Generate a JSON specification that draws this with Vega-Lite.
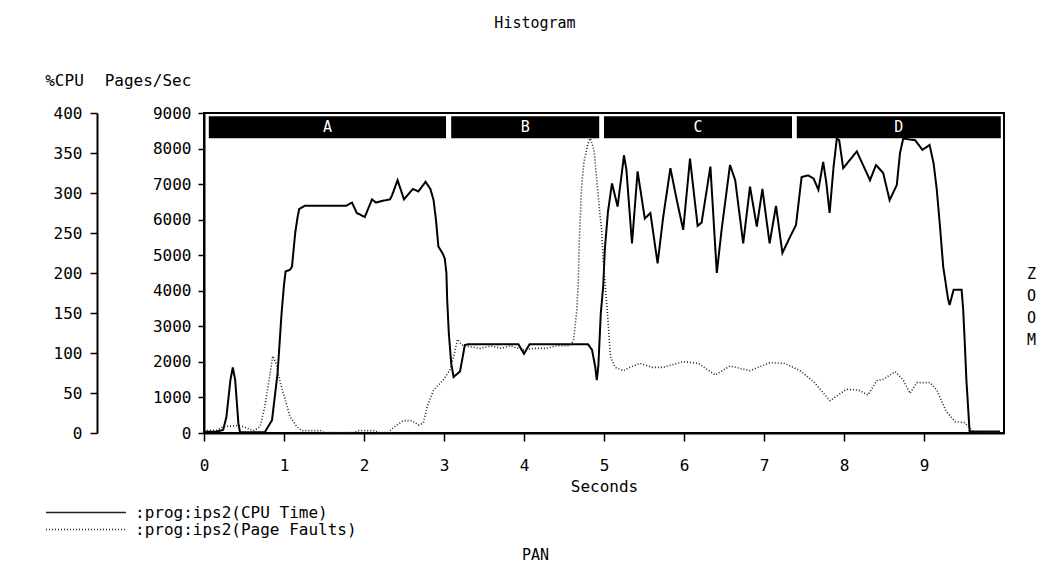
{
  "$schema": "https://vega.github.io/schema/vega-lite/v6.json",
  "width": 800,
  "height": 320,
  "autosize": "none",
  "padding": {"left": 204, "top": 113, "right": 53, "bottom": 154},
  "background": "white",
  "title": {"text": "Histogram", "font": "DejaVu Sans Mono", "fontSize": 15, "fontWeight": "normal", "color": "#000", "anchor": "middle", "frame": "group", "dx": -69, "offset": 41},
  "datasets": {
    "cpu": [
      {"t": 0.0, "cpu": 1.5}, {"t": 0.15, "cpu": 1.5}, {"t": 0.24, "cpu": 4}, {"t": 0.28, "cpu": 20}, {"t": 0.33, "cpu": 66}, {"t": 0.36, "cpu": 82}, {"t": 0.39, "cpu": 66}, {"t": 0.43, "cpu": 12}, {"t": 0.45, "cpu": 1}, {"t": 0.76, "cpu": 1}, {"t": 0.85, "cpu": 16}, {"t": 0.92, "cpu": 75}, {"t": 0.97, "cpu": 150}, {"t": 1.0, "cpu": 185}, {"t": 1.02, "cpu": 202}, {"t": 1.075, "cpu": 204}, {"t": 1.1, "cpu": 208}, {"t": 1.14, "cpu": 250}, {"t": 1.17, "cpu": 270}, {"t": 1.19, "cpu": 280}, {"t": 1.26, "cpu": 284}, {"t": 1.78, "cpu": 284}, {"t": 1.85, "cpu": 288}, {"t": 1.91, "cpu": 275}, {"t": 2.01, "cpu": 270}, {"t": 2.1, "cpu": 292}, {"t": 2.15, "cpu": 288}, {"t": 2.22, "cpu": 290}, {"t": 2.325, "cpu": 292}, {"t": 2.35, "cpu": 297}, {"t": 2.42, "cpu": 316}, {"t": 2.5, "cpu": 292}, {"t": 2.61, "cpu": 305}, {"t": 2.68, "cpu": 302}, {"t": 2.77, "cpu": 314}, {"t": 2.83, "cpu": 305}, {"t": 2.87, "cpu": 291}, {"t": 2.9, "cpu": 266}, {"t": 2.93, "cpu": 233}, {"t": 2.98, "cpu": 225}, {"t": 3.01, "cpu": 218}, {"t": 3.03, "cpu": 200}, {"t": 3.04, "cpu": 166}, {"t": 3.06, "cpu": 125}, {"t": 3.09, "cpu": 87}, {"t": 3.12, "cpu": 70}, {"t": 3.2, "cpu": 77}, {"t": 3.23, "cpu": 93}, {"t": 3.26, "cpu": 110}, {"t": 3.3, "cpu": 111}, {"t": 3.93, "cpu": 111}, {"t": 4.0, "cpu": 99}, {"t": 4.07, "cpu": 111}, {"t": 4.8, "cpu": 111}, {"t": 4.85, "cpu": 104}, {"t": 4.89, "cpu": 83}, {"t": 4.91, "cpu": 66}, {"t": 4.93, "cpu": 85}, {"t": 4.96, "cpu": 150}, {"t": 4.99, "cpu": 183}, {"t": 5.01, "cpu": 229}, {"t": 5.05, "cpu": 277}, {"t": 5.1, "cpu": 312}, {"t": 5.17, "cpu": 283}, {"t": 5.25, "cpu": 347}, {"t": 5.28, "cpu": 329}, {"t": 5.35, "cpu": 237}, {"t": 5.42, "cpu": 327}, {"t": 5.51, "cpu": 268}, {"t": 5.58, "cpu": 275}, {"t": 5.67, "cpu": 212}, {"t": 5.74, "cpu": 270}, {"t": 5.83, "cpu": 331}, {"t": 5.91, "cpu": 291}, {"t": 5.99, "cpu": 254}, {"t": 6.075, "cpu": 343}, {"t": 6.17, "cpu": 259}, {"t": 6.22, "cpu": 263}, {"t": 6.33, "cpu": 333}, {"t": 6.41, "cpu": 200}, {"t": 6.47, "cpu": 254}, {"t": 6.575, "cpu": 335}, {"t": 6.64, "cpu": 316}, {"t": 6.74, "cpu": 237}, {"t": 6.825, "cpu": 308}, {"t": 6.91, "cpu": 258}, {"t": 6.98, "cpu": 305}, {"t": 7.07, "cpu": 237}, {"t": 7.15, "cpu": 284}, {"t": 7.23, "cpu": 225}, {"t": 7.325, "cpu": 245}, {"t": 7.4, "cpu": 260}, {"t": 7.47, "cpu": 320}, {"t": 7.55, "cpu": 322}, {"t": 7.62, "cpu": 318}, {"t": 7.68, "cpu": 304}, {"t": 7.74, "cpu": 339}, {"t": 7.78, "cpu": 312}, {"t": 7.82, "cpu": 275}, {"t": 7.87, "cpu": 333}, {"t": 7.91, "cpu": 368}, {"t": 7.94, "cpu": 366}, {"t": 7.99, "cpu": 331}, {"t": 8.16, "cpu": 352}, {"t": 8.325, "cpu": 316}, {"t": 8.4, "cpu": 335}, {"t": 8.49, "cpu": 325}, {"t": 8.57, "cpu": 291}, {"t": 8.66, "cpu": 310}, {"t": 8.7, "cpu": 350}, {"t": 8.74, "cpu": 368}, {"t": 8.89, "cpu": 366}, {"t": 8.98, "cpu": 354}, {"t": 9.07, "cpu": 360}, {"t": 9.12, "cpu": 337}, {"t": 9.16, "cpu": 304}, {"t": 9.2, "cpu": 258}, {"t": 9.24, "cpu": 208}, {"t": 9.3, "cpu": 168}, {"t": 9.32, "cpu": 160}, {"t": 9.37, "cpu": 179}, {"t": 9.47, "cpu": 179}, {"t": 9.49, "cpu": 154}, {"t": 9.51, "cpu": 112}, {"t": 9.53, "cpu": 66}, {"t": 9.57, "cpu": 2}, {"t": 9.95, "cpu": 2}
    ],
    "pf": [
      {"t": 0.0, "pages": 60}, {"t": 0.16, "pages": 84}, {"t": 0.24, "pages": 178}, {"t": 0.41, "pages": 206}, {"t": 0.49, "pages": 178}, {"t": 0.62, "pages": 66}, {"t": 0.7, "pages": 178}, {"t": 0.76, "pages": 740}, {"t": 0.8, "pages": 1303}, {"t": 0.86, "pages": 2166}, {"t": 0.9, "pages": 1959}, {"t": 0.95, "pages": 1444}, {"t": 1.01, "pages": 975}, {"t": 1.075, "pages": 460}, {"t": 1.16, "pages": 178}, {"t": 1.22, "pages": 66}, {"t": 1.46, "pages": 66}, {"t": 1.5, "pages": 10}, {"t": 1.88, "pages": 10}, {"t": 1.92, "pages": 66}, {"t": 2.13, "pages": 66}, {"t": 2.18, "pages": 10}, {"t": 2.3, "pages": 10}, {"t": 2.37, "pages": 159}, {"t": 2.49, "pages": 347}, {"t": 2.6, "pages": 347}, {"t": 2.68, "pages": 225}, {"t": 2.74, "pages": 272}, {"t": 2.79, "pages": 740}, {"t": 2.87, "pages": 1209}, {"t": 2.99, "pages": 1490}, {"t": 3.075, "pages": 1772}, {"t": 3.13, "pages": 2240}, {"t": 3.17, "pages": 2634}, {"t": 3.22, "pages": 2475}, {"t": 3.325, "pages": 2428}, {"t": 3.45, "pages": 2381}, {"t": 3.59, "pages": 2447}, {"t": 3.72, "pages": 2381}, {"t": 3.825, "pages": 2456}, {"t": 3.99, "pages": 2334}, {"t": 4.12, "pages": 2381}, {"t": 4.28, "pages": 2381}, {"t": 4.41, "pages": 2456}, {"t": 4.575, "pages": 2456}, {"t": 4.62, "pages": 2616}, {"t": 4.66, "pages": 3459}, {"t": 4.68, "pages": 4303}, {"t": 4.69, "pages": 5335}, {"t": 4.72, "pages": 6928}, {"t": 4.75, "pages": 7631}, {"t": 4.8, "pages": 8147}, {"t": 4.83, "pages": 8288}, {"t": 4.875, "pages": 7959}, {"t": 4.91, "pages": 7116}, {"t": 4.94, "pages": 6366}, {"t": 4.97, "pages": 5709}, {"t": 4.99, "pages": 4866}, {"t": 5.01, "pages": 4303}, {"t": 5.05, "pages": 3178}, {"t": 5.08, "pages": 2147}, {"t": 5.14, "pages": 1847}, {"t": 5.24, "pages": 1753}, {"t": 5.325, "pages": 1847}, {"t": 5.45, "pages": 1959}, {"t": 5.6, "pages": 1847}, {"t": 5.74, "pages": 1847}, {"t": 5.99, "pages": 2006}, {"t": 6.18, "pages": 1959}, {"t": 6.39, "pages": 1631}, {"t": 6.575, "pages": 1884}, {"t": 6.825, "pages": 1753}, {"t": 7.075, "pages": 1978}, {"t": 7.26, "pages": 1959}, {"t": 7.45, "pages": 1753}, {"t": 7.62, "pages": 1444}, {"t": 7.825, "pages": 909}, {"t": 8.03, "pages": 1228}, {"t": 8.18, "pages": 1209}, {"t": 8.3, "pages": 1069}, {"t": 8.41, "pages": 1472}, {"t": 8.49, "pages": 1509}, {"t": 8.64, "pages": 1725}, {"t": 8.74, "pages": 1490}, {"t": 8.825, "pages": 1115}, {"t": 8.91, "pages": 1416}, {"t": 9.075, "pages": 1416}, {"t": 9.16, "pages": 1209}, {"t": 9.28, "pages": 600}, {"t": 9.39, "pages": 319}, {"t": 9.51, "pages": 291}, {"t": 9.575, "pages": 131}, {"t": 9.62, "pages": 30}, {"t": 9.95, "pages": 30}
    ],
    "phases": [
      {"phase": "A", "start": 0.06, "end": 3.025},
      {"phase": "B", "start": 3.09, "end": 4.94},
      {"phase": "C", "start": 5.0, "end": 7.35},
      {"phase": "D", "start": 7.41, "end": 9.96}
    ]
  },
  "resolve": {"scale": {"y": "independent"}, "axis": {"x": "independent", "y": "independent"}},
  "layer": [
    {
      "data": {"name": "cpu"},
      "mark": {"type": "line", "color": "#000", "strokeWidth": 2, "clip": true},
      "encoding": {
        "x": {"field": "t", "type": "quantitative", "scale": {"domain": [0, 10], "nice": false, "zero": false},
          "axis": {"orient": "bottom", "values": [0, 1, 2, 3, 4, 5, 6, 7, 8, 9], "format": "d", "title": "Seconds", "tickSize": 8, "labelPadding": 16, "labelFlush": false, "titleX": 400, "titleY": 53, "titleBaseline": "middle", "titleAlign": "center"}},
        "y": {"field": "cpu", "type": "quantitative", "scale": {"domain": [0, 400], "nice": false},
          "axis": {"orient": "left", "offset": 107, "values": [0, 50, 100, 150, 200, 250, 300, 350, 400], "format": "d", "title": "%CPU", "titleAngle": 0, "titleX": -33, "titleY": -33, "titleAlign": "center", "titleBaseline": "middle", "tickSize": 7, "labelPadding": 8}},
        "strokeDash": {"datum": ":prog:ips2(CPU Time)", "type": "nominal",
          "scale": {"domain": [":prog:ips2(CPU Time)", ":prog:ips2(Page Faults)"], "range": [[1, 0], [1, 2]]},
          "legend": {"orient": "none", "legendX": -159, "legendY": 392, "title": null, "symbolType": "stroke", "symbolSize": 6400, "clipHeight": 15, "labelOffset": 8, "labelLimit": 400, "labelFont": "DejaVu Sans Mono", "labelFontSize": 16, "labelColor": "#000", "symbolStrokeWidth": 1.5, "symbolStrokeColor": "#000", "padding": 0, "rowPadding": 0}}
      }
    },
    {
      "data": {"name": "pf"},
      "mark": {"type": "line", "color": "#222", "strokeWidth": 1.6, "clip": true},
      "encoding": {
        "x": {"field": "t", "type": "quantitative", "scale": {"domain": [0, 10], "nice": false, "zero": false}, "axis": null},
        "y": {"field": "pages", "type": "quantitative", "scale": {"domain": [0, 9000], "nice": false},
          "axis": {"orient": "left", "values": [0, 1000, 2000, 3000, 4000, 5000, 6000, 7000, 8000, 9000], "format": "d", "title": "Pages/Sec", "titleAngle": 0, "titleX": -56.5, "titleY": -33, "titleAlign": "center", "titleBaseline": "middle", "tickSize": 6, "labelPadding": 7}},
        "strokeDash": {"datum": ":prog:ips2(Page Faults)", "type": "nominal"}
      }
    },
    {
      "data": {"name": "phases"},
      "mark": {"type": "rect", "color": "#000"},
      "encoding": {
        "x": {"field": "start", "type": "quantitative", "scale": {"domain": [0, 10], "nice": false, "zero": false},
          "axis": {"orient": "bottom", "title": "PAN", "domain": false, "ticks": false, "labels": false, "titleX": 331, "titleY": 121, "titleBaseline": "middle", "titleAlign": "center", "titleFontSize": 15}},
        "x2": {"field": "end"},
        "y": {"datum": 8910, "type": "quantitative", "scale": {"domain": [0, 9000], "nice": false},
          "axis": {"orient": "right", "title": ["Z", "O", "O", "M"], "domain": false, "ticks": false, "labels": false, "titleAngle": 0, "titleX": 27, "titleY": 153, "titleBaseline": "top", "titleAlign": "center", "titleLineHeight": 22, "titleFontSize": 15}},
        "y2": {"datum": 8290}
      }
    },
    {
      "data": {"name": "phases"},
      "transform": [{"calculate": "(datum.start + datum.end) / 2", "as": "mid"}],
      "mark": {"type": "text", "color": "#fff", "font": "DejaVu Sans Mono", "fontSize": 15, "baseline": "middle", "align": "center"},
      "encoding": {
        "x": {"field": "mid", "type": "quantitative", "scale": {"domain": [0, 10], "nice": false, "zero": false}, "axis": null},
        "y": {"datum": 8600, "type": "quantitative", "scale": {"domain": [0, 9000], "nice": false}, "axis": null},
        "text": {"field": "phase"}
      }
    }
  ],
  "config": {
    "view": {"stroke": "#000", "strokeWidth": 2},
    "axis": {"grid": false, "labelFont": "DejaVu Sans Mono", "labelFontSize": 16, "labelColor": "#000", "titleFont": "DejaVu Sans Mono", "titleFontSize": 16, "titleFontWeight": "normal", "titleColor": "#000", "domainColor": "#000", "domainWidth": 2, "tickColor": "#000", "tickWidth": 1.5}
  }
}
